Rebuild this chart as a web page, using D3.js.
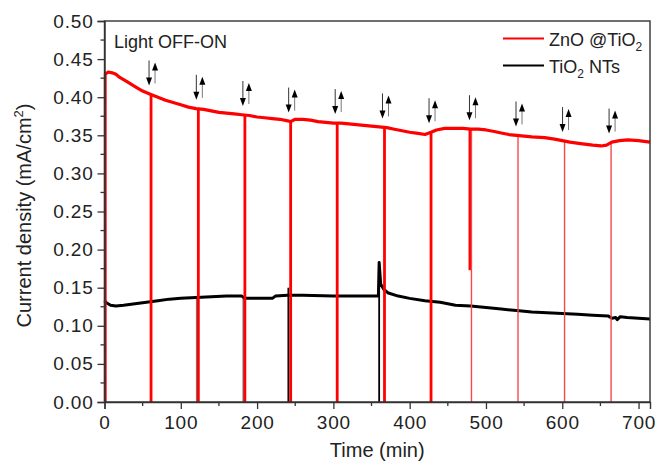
<!DOCTYPE html>
<html>
<head>
<meta charset="utf-8">
<script src="https://cdn.jsdelivr.net/npm/d3@7"></script>
<style>
	body { margin: 0; background: #fff; }
	svg { font-family: "Liberation Sans", Arial, sans-serif; }
</style>
</head>
<body>
<div id="chart"></div>
<script>
// ZnO@TiO2 photocurrent (min, mA/cm2)
const znoTime = [0, 5, 10, 15, 20, 30, 40, 50, 60, 70, 80, 90, 100, 110, 120, 130, 140, 150, 160, 170, 180, 190, 200, 210, 220, 230, 240, 244, 250, 260, 270, 280, 290, 300, 310, 320, 330, 340, 350, 360, 370, 380, 390, 400, 411, 420, 428, 435, 446, 460, 470, 480, 490, 500, 511, 520, 530, 540, 550, 560, 577, 590, 600, 610, 624, 640, 651, 658, 665, 675, 686, 700, 715];
const znoCurrent = [0.430, 0.433, 0.432, 0.430, 0.426, 0.420, 0.414, 0.408, 0.404, 0.400, 0.396, 0.393, 0.390, 0.387, 0.385, 0.384, 0.382, 0.380, 0.379, 0.378, 0.377, 0.376, 0.374, 0.373, 0.372, 0.371, 0.369, 0.368, 0.371, 0.371, 0.370, 0.368, 0.367, 0.366, 0.366, 0.365, 0.364, 0.363, 0.362, 0.361, 0.360, 0.358, 0.356, 0.354, 0.3525, 0.351, 0.354, 0.357, 0.359, 0.359, 0.359, 0.358, 0.358, 0.357, 0.355, 0.353, 0.351, 0.350, 0.349, 0.348, 0.347, 0.345, 0.343, 0.341, 0.339, 0.337, 0.336, 0.337, 0.341, 0.343, 0.344, 0.343, 0.341];

// TiO2 NTs photocurrent
const tiTime = [0, 3, 8, 15, 25, 40, 55, 70, 85, 100, 120, 140, 160, 180, 184, 220, 224, 240, 260, 300, 340, 359, 360, 362, 366, 372, 385, 400, 420, 440, 460, 480, 500, 520, 540, 560, 580, 600, 620, 640, 660, 665, 670, 672, 676, 685, 700, 715];
const tiCurrent = [0.133, 0.130, 0.127, 0.126, 0.127, 0.129, 0.131, 0.133, 0.135, 0.136, 0.137, 0.138, 0.139, 0.139, 0.136, 0.136, 0.139, 0.140, 0.140, 0.139, 0.139, 0.139, 0.183, 0.155, 0.148, 0.143, 0.139, 0.136, 0.133, 0.131, 0.127, 0.126, 0.124, 0.122, 0.120, 0.118, 0.117, 0.116, 0.115, 0.114, 0.113, 0.110, 0.111, 0.108, 0.112, 0.111, 0.110, 0.109];

// light switching events
const znoSpikeTime = [1, 61, 123, 184, 244, 305, 367, 428, 479, 481, 542, 603, 664];
const znoSpikeBottom = [0, 0, 0, 0, 0, 0, 0, 0, 0.173, 0, 0, 0, 0];
const tiSpikeTime = [121, 182, 241, 360];
const tiSpikeTop = [0.138, 0.139, 0.150, 0.183];
const arrowTime = [61, 123, 184, 244, 305, 367, 428, 481, 542, 603, 664];

const xTicks = [0, 100, 200, 300, 400, 500, 600, 700];
const yTicks = [0, 0.05, 0.10, 0.15, 0.20, 0.25, 0.30, 0.35, 0.40, 0.45, 0.50];

let width = 658,
		height = 464,
		margin = {top: 21, left: 104.5, right: 8, bottom: 62},
		red = '#ff0000',
		ink = '#222',
		frame = '#333';

let svg = d3.select('#chart').append('svg')
		.attr('width', width)
		.attr('height', height);

let x = d3.scaleLinear().domain([0, 715]).range([margin.left, width - margin.right]);
let y = d3.scaleLinear().domain([0, 0.5]).range([height - margin.bottom, margin.top]);

let zno = znoTime.map((t, i) => ({t: t, v: znoCurrent[i]}));
let ti = tiTime.map((t, i) => ({t: t, v: tiCurrent[i]}));

// value of the ZnO curve at time t
function znoAt(t) {
	let i = d3.bisector(d => d.t).left(zno, t);
	if (i <= 0) return zno[0].v;
	if (i >= zno.length) return zno[zno.length - 1].v;
	let a = zno[i - 1], b = zno[i];
	return a.v + (b.v - a.v) * (t - a.t) / (b.t - a.t);
}

let line = d3.line().x(d => x(d.t)).y(d => y(d.v));

// TiO2 NTs: spikes then curve
svg.append('g').selectAll('line')
		.data(tiSpikeTime)
		.enter()
		.append('line')
		.attr('x1', d => x(d))
		.attr('x2', d => x(d))
		.attr('y1', (d, i) => y(tiSpikeTop[i]))
		.attr('y2', y(0))
		.attr('stroke', (d, i) => i < 2 ? '#777' : '#000')
		.attr('stroke-width', 1.8);

svg.append('path')
		.datum(ti)
		.attr('d', line)
		.attr('fill', 'none')
		.attr('stroke', '#000')
		.attr('stroke-width', 3)
		.attr('stroke-linejoin', 'round');

// ZnO@TiO2: spikes then curve
svg.append('g').selectAll('line')
		.data(znoSpikeTime)
		.enter()
		.append('line')
		.attr('x1', d => x(d))
		.attr('x2', d => x(d))
		.attr('y1', d => y(znoAt(d)))
		.attr('y2', (d, i) => y(znoSpikeBottom[i]))
		.attr('stroke', d => d > 480 ? '#f24a4a' : red)
		.attr('stroke-width', d => d > 480 ? 1.4 : 2.8);

svg.append('path')
		.datum(zno)
		.attr('d', line)
		.attr('fill', 'none')
		.attr('stroke', red)
		.attr('stroke-width', 3.2)
		.attr('stroke-linejoin', 'round');

// OFF (down) / ON (up) arrows
let arrows = svg.append('g');
arrowTime.forEach(t => {
	let cx = x(t), cy = y(znoAt(t));
	// down arrow
	let dx = cx - 2, top = cy - 34, bot = cy - 9;
	arrows.append('line')
			.attr('x1', dx).attr('x2', dx)
			.attr('y1', top).attr('y2', bot - 6)
			.attr('stroke', '#333').attr('stroke-width', 1);
	arrows.append('path')
			.attr('d', `M ${dx - 3} ${bot - 8} L ${dx + 3} ${bot - 8} L ${dx} ${bot} Z`)
			.attr('fill', '#000');
	// up arrow
	let ux = cx + 4, utop = cy - 32, ubot = cy - 11;
	arrows.append('line')
			.attr('x1', ux).attr('x2', ux)
			.attr('y1', utop + 6).attr('y2', ubot)
			.attr('stroke', '#777').attr('stroke-width', 1);
	arrows.append('path')
			.attr('d', `M ${ux - 3} ${utop + 8} L ${ux + 3} ${utop + 8} L ${ux} ${utop} Z`)
			.attr('fill', '#000');
});

// frame
svg.append('rect')
		.attr('x', x(0))
		.attr('y', y(0.5))
		.attr('width', x(715) - x(0))
		.attr('height', y(0) - y(0.5))
		.attr('fill', 'none')
		.attr('stroke', frame)
		.attr('stroke-width', 1.4);

// minor ticks
svg.append('g').selectAll('line')
		.data(d3.range(50, 715, 100))
		.enter()
		.append('line')
		.attr('x1', d => x(d)).attr('x2', d => x(d))
		.attr('y1', y(0)).attr('y2', y(0) + 4)
		.attr('stroke', frame).attr('stroke-width', 1.3);

svg.append('g').selectAll('line')
		.data(d3.range(0.025, 0.5, 0.05))
		.enter()
		.append('line')
		.attr('x1', x(0) - 4).attr('x2', x(0))
		.attr('y1', d => y(d)).attr('y2', d => y(d))
		.attr('stroke', frame).attr('stroke-width', 1.3);

// axes
let xAxis = svg.append('g')
		.attr('transform', `translate(0,${y(0)})`)
		.call(d3.axisBottom(x).tickValues(xTicks).tickSize(7).tickPadding(7).tickFormat(d3.format('d')));

let yAxis = svg.append('g')
		.attr('transform', `translate(${x(0)},0)`)
		.call(d3.axisLeft(y).tickValues(yTicks).tickSize(7).tickPadding(4).tickFormat(d3.format('.2f')));

[xAxis, yAxis].forEach(a => {
	a.select('.domain').attr('stroke', frame).attr('stroke-width', 1.4);
	a.selectAll('.tick line').attr('stroke', frame).attr('stroke-width', 1.3);
	a.selectAll('.tick text')
			.attr('fill', ink)
			.style('font-size', '19px')
			.style('letter-spacing', '0.8px')
			.style('font-family', '"Liberation Sans", Arial, sans-serif');
});

// axis titles
svg.append('text')
		.attr('x', (x(0) + x(715)) / 2)
		.attr('y', 457)
		.attr('text-anchor', 'middle')
		.attr('fill', ink)
		.style('font-size', '20px')
		.text('Time (min)');

let yt = svg.append('text')
		.attr('transform', `translate(31,${(y(0) + y(0.5)) / 2 + 4}) rotate(-90)`)
		.attr('text-anchor', 'middle')
		.attr('fill', ink)
		.style('font-size', '20px');
yt.append('tspan').text('Current density (mA/cm');
yt.append('tspan').attr('dy', -8).style('font-size', '13px').text('2');
yt.append('tspan').attr('dy', 8).text(')');

// annotation
svg.append('text')
		.attr('x', 114)
		.attr('y', 47.5)
		.attr('fill', ink)
		.style('font-size', '18px')
		.text('Light OFF-ON');

// legend
let legend = svg.append('g');
let legendItems = [
	{color: red, parts: [['ZnO @TiO', 0], ['2', 1]]},
	{color: '#000', parts: [['TiO', 0], ['2', 1], [' NTs', -1]]}
];
legendItems.forEach((item, i) => {
	let ly = 38.5 + i * 27;
	legend.append('line')
			.attr('x1', 503).attr('x2', 544)
			.attr('y1', ly).attr('y2', ly)
			.attr('stroke', item.color)
			.attr('stroke-width', 2.2);
	let tx = legend.append('text')
			.attr('x', 549)
			.attr('y', ly + 7)
			.attr('fill', ink)
			.style('font-size', '18px');
	item.parts.forEach(p => {
		let ts = tx.append('tspan').text(p[0]);
		if (p[1] === 1) ts.attr('dy', 5).style('font-size', '12px');
		if (p[1] === -1) ts.attr('dy', -5);
	});
});
</script>
</body>
</html>
